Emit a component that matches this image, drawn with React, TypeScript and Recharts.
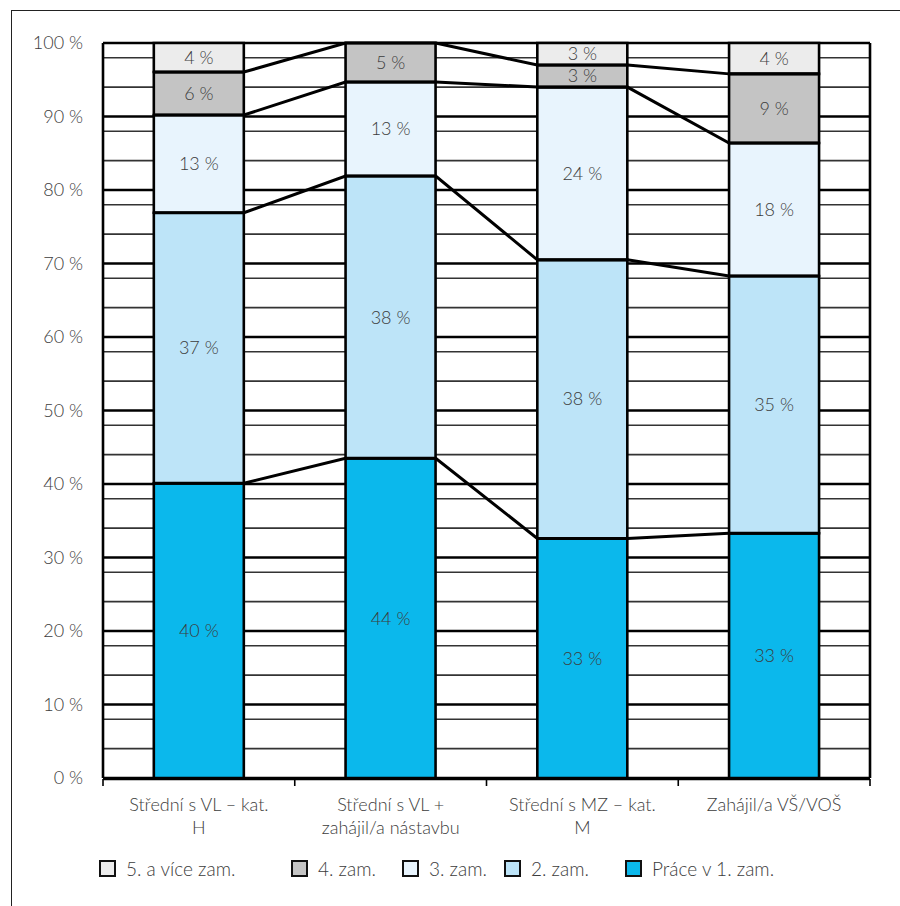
import {
  ComposedChart,
  Bar,
  XAxis,
  YAxis,
  CartesianGrid,
  LabelList,
  Scatter,
  ReferenceLine,
} from "recharts";

const categories = [
  "Střední s VL – kat.\nH",
  "Střední s VL +\nzahájil/a nástavbu",
  "Střední s MZ – kat.\nM",
  "Zahájil/a VŠ/VOŠ",
];

// shares in %, bottom to top
const prace1 = [40.1, 43.5, 32.6, 33.3];
const zam2 = [36.8, 38.4, 37.9, 35.0];
const zam3 = [13.3, 12.8, 23.5, 18.1];
const zam4 = [5.85, 5.3, 3.0, 9.4];
const zam5 = [3.95, 0, 3.0, 4.2];

const seriesNames = ["Práce v 1. zam.", "2. zam.", "3. zam.", "4. zam.", "5. a více zam."];
const seriesColors = ["#0bb8ec", "#bde4f8", "#e8f4fd", "#c4c4c4", "#ececec"];

const yTicks = [0, 10, 20, 30, 40, 50, 60, 70, 80, 90, 100];
const minorTicks = [
  2, 4, 6, 8, 12, 14, 16, 18, 22, 24, 26, 28, 32, 34, 36, 38, 42, 44, 46, 48,
  52, 54, 56, 58, 62, 64, 66, 68, 72, 74, 76, 78, 82, 84, 86, 88, 92, 94, 96, 98,
];
const edgeTicks = [0, 1, 2, 3, 4];

const series = [prace1, zam2, zam3, zam4, zam5];
const keys = ["s1", "s2", "s3", "s4", "s5"];

const data = categories.map((name, i) => {
  const row: any = { name };
  keys.forEach((k, s) => (row[k] = series[s][i]));
  return row;
});

const GAP = 0.265; // category gap, share of the band on each side
const half = 0.5 - GAP;

// series lines: top of each stacked series, bar edge to bar edge
const connectors = [0, 1, 2, 3].map((s) => {
  const pts: any[] = [];
  categories.forEach((_, i) => {
    let cum = 0;
    for (let k = 0; k <= s; k++) cum += series[k][i];
    pts.push({ x: i + 0.5 - half, y: cum }, { x: i + 0.5 + half, y: cum });
  });
  return pts;
});

const font = "Lato, 'Open Sans', sans-serif";
const textColor = "#3c3c3c";
const fs = 18;

function CatTick({ x, y, payload }: any) {
  const lines = String(payload.value).split("\n");
  return (
    <text x={x} y={y} textAnchor="middle" fill={textColor} fontSize={fs} fontWeight={300} fontFamily={font}>
      {lines.map((l, i) => (
        <tspan key={i} x={x} dy={i === 0 ? 25 : 23}>
          {l}
        </tspan>
      ))}
    </text>
  );
}

const legendOrder = [4, 3, 2, 1, 0];
const legendWidths = [192, 111, 102, 121, 200];

function App() {
  return (
    <div style={{ position: "absolute", left: 0, top: 0, width: 900, height: 906, background: "#fff", overflow: "hidden", fontFamily: font }}>
      <div
        style={{
          position: "absolute",
          left: 11,
          top: 10,
          width: 900,
          height: 906,
          borderLeft: "1.5px solid #222",
          borderTop: "1.5px solid #222",
        }}
      />
      <div style={{ position: "absolute", left: 0, top: 0 }}>
        <ComposedChart
          width={900}
          height={906}
          data={data}
          margin={{ top: 43, right: 30, left: 0, bottom: 126 }}
          barCategoryGap={`${GAP * 100}%`}
        >
          <CartesianGrid
            xAxisId="num"
            vertical={false}
            horizontalValues={minorTicks}
            stroke="#333"
            strokeWidth={1.6}
          />
          <CartesianGrid
            xAxisId="num"
            vertical={false}
            horizontalValues={yTicks}
            stroke="#000"
            strokeWidth={2.6}
          />
          <XAxis
            xAxisId="num"
            type="number"
            dataKey="x"
            domain={[0, 4]}
            ticks={edgeTicks}
            tickFormatter={() => ""}
            height={1}
            tickSize={7}
            axisLine={{ stroke: "#000", strokeWidth: 2.6 }}
            tickLine={{ stroke: "#000", strokeWidth: 1.6 }}
          />
          <XAxis
            xAxisId="cat"
            dataKey="name"
            height={1}
            axisLine={false}
            tickLine={false}
            interval={0}
            tick={<CatTick />}
          />
          <YAxis
            width={103}
            domain={[0, 100]}
            ticks={yTicks}
            tickLine={false}
            tickMargin={14}
            axisLine={{ stroke: "#000", strokeWidth: 2.6 }}
            tickFormatter={(v: number) => `${v} %`}
            tick={{ fill: textColor, fontSize: fs, fontWeight: 300, fontFamily: font }}
          />
          {keys.map((k, s) => (
            <Bar
              key={k}
              xAxisId="cat"
              dataKey={k}
              name={seriesNames[s]}
              stackId="a"
              fill={seriesColors[s]}
              stroke="#000"
              strokeWidth={2.6}
              isAnimationActive={false}
            >
              <LabelList
                dataKey={k}
                position="center"
                fill={textColor}
                fontSize={fs}
                fontWeight={300}
                fontFamily={font}
                formatter={(v: any) => (v > 0.5 ? `${Math.round(v)} %` : "")}
              />
            </Bar>
          ))}
          {connectors.map((pts, s) => (
            <Scatter
              key={s}
              xAxisId="num"
              data={pts}
              dataKey="y"
              stroke="#000"
              strokeWidth={3}
              line={{ stroke: "#000", strokeWidth: 3 }}
              shape={() => <g />}
              isAnimationActive={false}
            />
          ))}
          <ReferenceLine xAxisId="num" x={4} stroke="#000" strokeWidth={2.6} />
        </ComposedChart>
      </div>
      <div
        style={{
          position: "absolute",
          left: 99,
          top: 857,
          display: "flex",
          alignItems: "center",
          fontSize: 19,
          fontWeight: 300,
          color: textColor,
        }}
      >
        {legendOrder.map((s, i) => (
          <div key={s} style={{ width: legendWidths[i], display: "flex", alignItems: "center" }}>
            <span
              style={{
                display: "inline-block",
                width: 13,
                height: 13,
                background: seriesColors[s],
                border: "2.5px solid #111",
                marginRight: 10,
              }}
            />
            <span>{seriesNames[s]}</span>
          </div>
        ))}
      </div>
    </div>
  );
}

export default App;
